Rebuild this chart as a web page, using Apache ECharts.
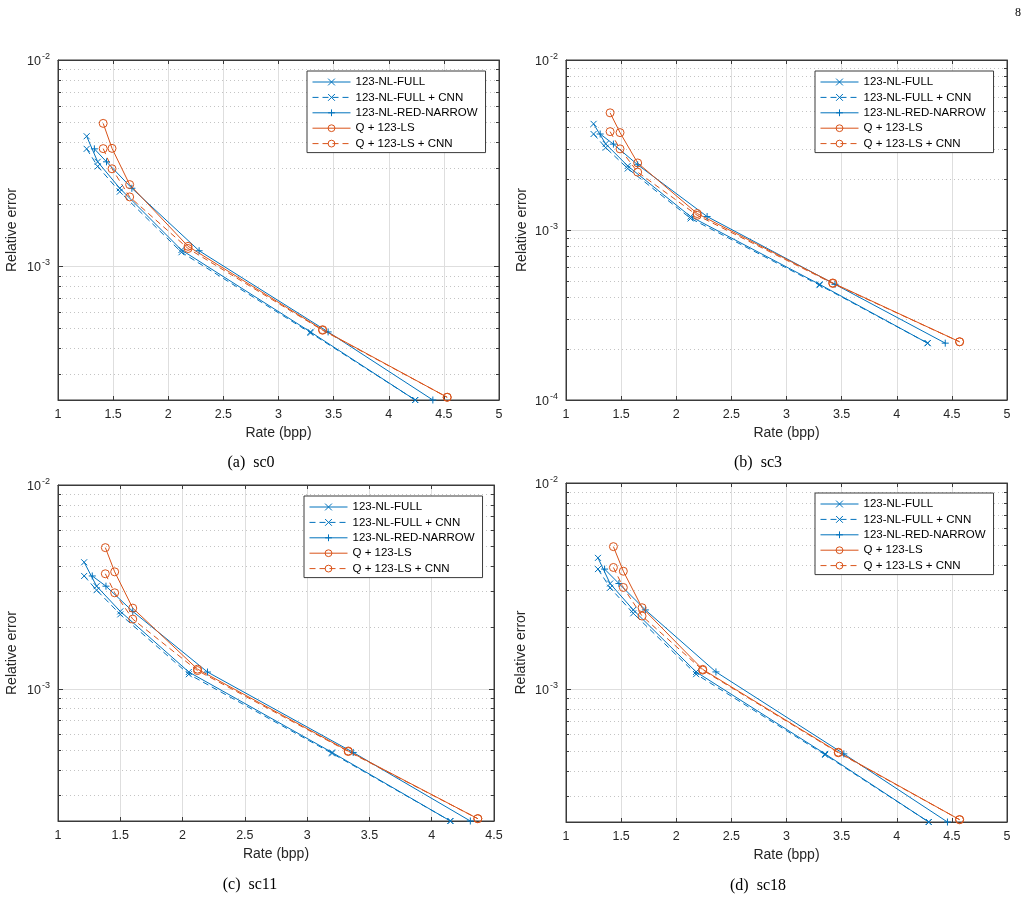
<!DOCTYPE html>
<html>
<head>
<meta charset="utf-8">
<script src="https://cdn.jsdelivr.net/npm/echarts@6/dist/echarts.min.js"></script>
<style>
html, body { margin: 0; padding: 0; background: #fff; }
#main { width: 1033px; height: 901px; }
</style>
</head>
<body>
<div id="main"></div>
<script>
// series names (same in all four panels)
var seriesNames = ['123-NL-FULL', '123-NL-FULL + CNN', '123-NL-RED-NARROW', 'Q + 123-LS', 'Q + 123-LS + CNN'];

// (a) sc0  -- [rate (bpp), relative error]
var sc0Full      = [[1.26, 4.27e-3], [1.36, 3.21e-3], [1.56, 2.39e-3], [2.12, 1.20e-3], [3.29, 4.81e-4], [4.24, 2.25e-4]];
var sc0FullCnn   = [[1.26, 3.71e-3], [1.36, 3.05e-3], [1.56, 2.30e-3], [2.12, 1.17e-3], [3.29, 4.76e-4], [4.24, 2.25e-4]];
var sc0RedNarrow = [[1.33, 3.71e-3], [1.44, 3.21e-3], [1.67, 2.39e-3], [2.28, 1.19e-3], [3.45, 4.81e-4], [4.40, 2.25e-4]];
var sc0QLs       = [[1.41, 4.93e-3], [1.49, 3.73e-3], [1.65, 2.49e-3], [2.18, 1.25e-3], [3.40, 4.93e-4], [4.53, 2.32e-4]];
var sc0QLsCnn    = [[1.41, 3.72e-3], [1.49, 2.97e-3], [1.65, 2.17e-3], [2.18, 1.22e-3], [3.40, 4.90e-4], [4.53, 2.32e-4]];

// (b) sc3
var sc3Full      = [[1.25, 4.21e-3], [1.36, 3.21e-3], [1.56, 2.38e-3], [2.13, 1.20e-3], [3.30, 4.79e-4], [4.28, 2.16e-4]];
var sc3FullCnn   = [[1.25, 3.67e-3], [1.36, 3.05e-3], [1.56, 2.30e-3], [2.13, 1.17e-3], [3.30, 4.74e-4], [4.28, 2.16e-4]];
var sc3RedNarrow = [[1.31, 3.67e-3], [1.43, 3.20e-3], [1.65, 2.42e-3], [2.28, 1.20e-3], [3.44, 4.79e-4], [4.44, 2.16e-4]];
var sc3QLs       = [[1.40, 4.89e-3], [1.49, 3.74e-3], [1.65, 2.48e-3], [2.19, 1.25e-3], [3.42, 4.88e-4], [4.57, 2.20e-4]];
var sc3QLsCnn    = [[1.40, 3.79e-3], [1.49, 3.00e-3], [1.65, 2.19e-3], [2.19, 1.22e-3], [3.42, 4.85e-4], [4.57, 2.20e-4]];

// (c) sc11
var sc11Full      = [[1.21, 4.18e-3], [1.31, 3.19e-3], [1.50, 2.40e-3], [2.05, 1.21e-3], [3.20, 4.88e-4], [4.15, 2.25e-4]];
var sc11FullCnn   = [[1.21, 3.58e-3], [1.31, 3.05e-3], [1.50, 2.32e-3], [2.05, 1.18e-3], [3.20, 4.83e-4], [4.15, 2.25e-4]];
var sc11RedNarrow = [[1.275, 3.58e-3], [1.385, 3.19e-3], [1.60, 2.40e-3], [2.20, 1.21e-3], [3.37, 4.88e-4], [4.31, 2.25e-4]];
var sc11QLs       = [[1.38, 4.93e-3], [1.455, 3.75e-3], [1.60, 2.49e-3], [2.12, 1.25e-3], [3.33, 4.96e-4], [4.37, 2.31e-4]];
var sc11QLsCnn    = [[1.38, 3.67e-3], [1.455, 2.96e-3], [1.60, 2.20e-3], [2.12, 1.23e-3], [3.33, 4.93e-4], [4.37, 2.31e-4]];

// (d) sc18
var sc18Full      = [[1.29, 4.33e-3], [1.40, 3.25e-3], [1.61, 2.42e-3], [2.18, 1.21e-3], [3.35, 4.84e-4], [4.29, 2.26e-4]];
var sc18FullCnn   = [[1.29, 3.82e-3], [1.40, 3.10e-3], [1.61, 2.33e-3], [2.18, 1.18e-3], [3.35, 4.79e-4], [4.29, 2.26e-4]];
var sc18RedNarrow = [[1.35, 3.82e-3], [1.48, 3.25e-3], [1.72, 2.42e-3], [2.36, 1.21e-3], [3.52, 4.84e-4], [4.46, 2.26e-4]];
var sc18QLs       = [[1.43, 4.91e-3], [1.52, 3.73e-3], [1.69, 2.48e-3], [2.24, 1.245e-3], [3.47, 4.93e-4], [4.57, 2.32e-4]];
var sc18QLsCnn    = [[1.43, 3.89e-3], [1.52, 3.11e-3], [1.69, 2.26e-3], [2.24, 1.235e-3], [3.47, 4.90e-4], [4.57, 2.32e-4]];

var BLUE = '#0072BD', ORANGE = '#D95319';
var FONT = '"Liberation Sans", Arial, Helvetica, sans-serif';
var SERIF = '"Liberation Serif", "Times New Roman", serif';
var TXT = '#262626', AXIS = '#3a3a3a', GRIDC = '#dedede', MINORC = '#c4c4c4';

var SYM = {
  x: 'path://M0,0L10,10M10,0L0,10',
  p: 'path://M5,0L5,10M0,5L10,5',
  o: 'path://M10,5A5,5,0,1,1,0,5A5,5,0,1,1,10,5Z'
};
var SIZE = { x: 6, p: 7, o: 8 };
var KIND = ['x', 'x', 'p', 'o', 'o'];
var DASH = [false, true, false, false, true];

var panels = [
  { cap: '(a)  sc0', data: [sc0Full, sc0FullCnn, sc0RedNarrow, sc0QLs, sc0QLsCnn], xMax: 5, yMin: null,
    grid: { left: 58, top: 60, width: 441, height: 340 }, legend: { left: 307, top: 71 }, capX: 251, capY: 463, nameGap: 39 },
  { cap: '(b)  sc3', data: [sc3Full, sc3FullCnn, sc3RedNarrow, sc3QLs, sc3QLsCnn], xMax: 5, yMin: 1e-4,
    grid: { left: 566, top: 60, width: 441, height: 340 }, legend: { left: 815, top: 71 }, capX: 758, capY: 463, nameGap: 37 },
  { cap: '(c)  sc11', data: [sc11Full, sc11FullCnn, sc11RedNarrow, sc11QLs, sc11QLsCnn], xMax: 4.5, yMin: null,
    grid: { left: 58, top: 485, width: 436, height: 336 }, legend: { left: 304, top: 496 }, capX: 250, capY: 885, nameGap: 39 },
  { cap: '(d)  sc18', data: [sc18Full, sc18FullCnn, sc18RedNarrow, sc18QLs, sc18QLsCnn], xMax: 5, yMin: null,
    grid: { left: 566, top: 483, width: 441, height: 339 }, legend: { left: 815, top: 493 }, capX: 758, capY: 886, nameGap: 38 }
];

function powLabel(v) {
  var e = Math.log10(v), r = Math.round(e);
  if (Math.abs(e - r) > 1e-6) return '';
  return '{b|10}{s|' + r + '}';
}

var grids = [], xAxes = [], yAxes = [], series = [], legends = [], graphics = [];

panels.forEach(function (p, i) {
  grids.push({ left: p.grid.left, top: p.grid.top, width: p.grid.width, height: p.grid.height,
    show: true, borderColor: AXIS, borderWidth: 1, backgroundColor: '#fff', containLabel: false });

  var lo = p.yMin;
  if (lo === null) {
    lo = Infinity;
    p.data.forEach(function (d) { d.forEach(function (pt) { if (pt[1] < lo) lo = pt[1]; }); });
  }

  // bottom x axis
  xAxes.push({
    gridIndex: i, type: 'value', position: 'bottom', min: 1, max: p.xMax, interval: 0.5,
    name: 'Rate (bpp)', nameLocation: 'middle', nameGap: 26,
    nameTextStyle: { fontFamily: FONT, fontSize: 14, color: TXT },
    axisLine: { show: true, onZero: false, lineStyle: { color: AXIS, width: 1 } },
    axisTick: { show: true, inside: true, length: 4, lineStyle: { color: AXIS } },
    axisLabel: { margin: 8, fontFamily: FONT, fontSize: 12.5, color: TXT, showMinLabel: true, showMaxLabel: true },
    splitLine: { show: true, lineStyle: { color: GRIDC, width: 1 } }
  });
  // top x axis (ticks only)
  xAxes.push({
    gridIndex: i, type: 'value', position: 'top', min: 1, max: p.xMax, interval: 0.5,
    axisLine: { show: true, onZero: false, lineStyle: { color: AXIS, width: 1 } },
    axisTick: { show: true, inside: true, length: 4, lineStyle: { color: AXIS } },
    axisLabel: { show: false }, splitLine: { show: false }
  });
  // left log axis
  yAxes.push({
    gridIndex: i, type: 'log', logBase: 10, position: 'left', min: lo, max: 1e-2,
    name: 'Relative error', nameLocation: 'middle', nameGap: p.nameGap, nameRotate: 90,
    nameTextStyle: { fontFamily: FONT, fontSize: 14, color: TXT },
    axisLine: { show: true, onZero: false, lineStyle: { color: AXIS, width: 1 } },
    axisTick: { show: true, inside: true, length: 5, lineStyle: { color: AXIS } },
    minorTick: { show: true, splitNumber: 9, length: 3, lineStyle: { color: AXIS } },
    axisLabel: {
      margin: 8, formatter: powLabel, showMinLabel: true,
      rich: {
        b: { fontFamily: FONT, fontSize: 12.5, color: TXT, verticalAlign: 'bottom' },
        s: { fontFamily: FONT, fontSize: 9, color: TXT, verticalAlign: 'bottom', padding: [0, 0, 7, 1] }
      }
    },
    splitLine: { show: true, lineStyle: { color: GRIDC, width: 1 } },
    minorSplitLine: { show: true, lineStyle: { color: MINORC, width: 1, type: [1, 3] } }
  });
  // right log axis (ticks only)
  yAxes.push({
    gridIndex: i, type: 'log', logBase: 10, position: 'right', min: lo, max: 1e-2,
    axisLine: { show: true, onZero: false, lineStyle: { color: AXIS, width: 1 } },
    axisTick: { show: true, inside: true, length: 5, lineStyle: { color: AXIS } },
    minorTick: { show: true, splitNumber: 9, length: 3, lineStyle: { color: AXIS } },
    axisLabel: { show: false }, splitLine: { show: false }
  });

  p.data.forEach(function (d, k) {
    var color = KIND[k] === 'o' ? ORANGE : BLUE;
    series.push({
      name: seriesNames[k], type: 'line', data: d,
      xAxisIndex: 2 * i, yAxisIndex: 2 * i,
      symbol: SYM[KIND[k]], symbolSize: SIZE[KIND[k]], showSymbol: true, clip: false,
      lineStyle: { color: color, width: 1, type: DASH[k] ? [6, 4] : 'solid' },
      itemStyle: { color: 'none', borderColor: color, borderWidth: 1 },
      emphasis: { disabled: true },
      animation: false
    });
  });

  legends.push({
    data: seriesNames, orient: 'vertical', left: p.legend.left, top: p.legend.top,
    itemWidth: 38, itemHeight: 8.5, itemGap: 3.4, padding: [5, 8, 3, 5],
    borderColor: AXIS, borderWidth: 1, backgroundColor: '#fff',
    lineStyle: { width: 1 },
    itemStyle: { borderWidth: 1 },
    textStyle: { fontFamily: FONT, fontSize: 11.5, color: '#000' },
    selectedMode: false
  });

  graphics.push({
    type: 'text', x: p.capX, y: p.capY,
    style: { text: p.cap, font: '16px ' + SERIF, fill: '#000', align: 'center', verticalAlign: 'middle',
      textAlign: 'center', textVerticalAlign: 'middle' }
  });
});

// page number
graphics.push({
  type: 'text', x: 1018, y: 13,
  style: { text: '8', font: '12px ' + SERIF, fill: '#000', align: 'center', verticalAlign: 'middle',
    textAlign: 'center', textVerticalAlign: 'middle' }
});

var myChart = echarts.init(document.getElementById('main'), null, { renderer: 'canvas' });
myChart.setOption({
  backgroundColor: '#fff',
  animation: false,
  grid: grids,
  xAxis: xAxes,
  yAxis: yAxes,
  legend: legends,
  series: series,
  graphic: graphics
});
</script>
</body>
</html>
